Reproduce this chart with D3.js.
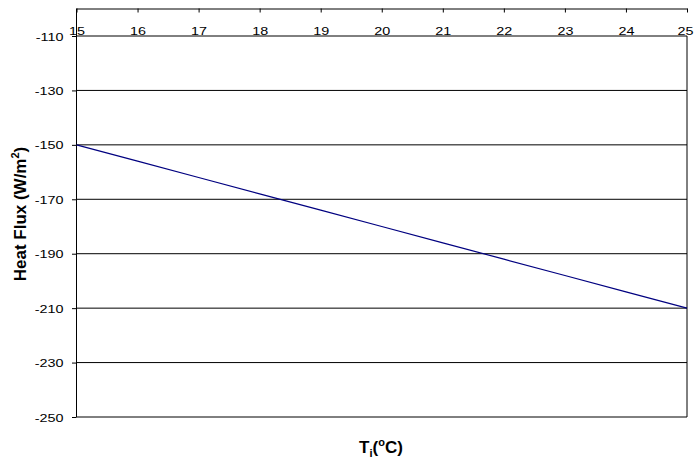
<!DOCTYPE html>
<html>
<head>
<meta charset="utf-8">
<script src="https://cdn.jsdelivr.net/npm/d3@7"></script>
<style>
  html, body { margin: 0; padding: 0; background: #fff; }
  svg { display: block; font-family: "Liberation Sans", Arial, sans-serif; }
</style>
</head>
<body>
<svg id="chart" width="694" height="458"></svg>
<script>
// Indoor temperature (°C) and the resulting heat flux (W/m²)
const temps = [15, 16, 17, 18, 19, 20, 21, 22, 23, 24, 25];
const flux  = [-150, -156, -162, -168, -174, -180, -186, -192, -198, -204, -210];

// Axis tick labels
const xTicks = [15, 16, 17, 18, 19, 20, 21, 22, 23, 24, 25];
const yTicks = [-110, -130, -150, -170, -190, -210, -230, -250];

const svg = d3.select("#chart");

const plotLeft = 76.5, plotRight = 687, plotTop = 36, plotBottom = 417, axisY = 8.5;
// Tick labels are drawn slightly widened
const labelStretch = 1.25;

const x = d3.scaleLinear().domain([15, 25]).range([plotLeft, plotRight]);
const y = d3.scaleLinear().domain([-110, -250]).range([plotTop, plotBottom]);

// Plain hyphen-minus labels
const plainLabel = d => String(d);

// Horizontal gridlines
svg.append("g")
  .selectAll("line")
  .data(yTicks)
  .join("line")
  .attr("x1", plotLeft).attr("x2", plotRight)
  .attr("y1", d => y(d)).attr("y2", d => y(d))
  .attr("stroke", "#000").attr("stroke-width", 1);

// Right edge of the plot area
svg.append("line")
  .attr("x1", plotRight).attr("x2", plotRight)
  .attr("y1", plotTop).attr("y2", plotBottom)
  .attr("stroke", "#000").attr("stroke-width", 1);

// Left (value) axis
const yAxis = d3.axisLeft(y)
  .tickValues(yTicks)
  .tickSize(4.5)
  .tickPadding(8)
  .tickFormat(plainLabel);
const gy = svg.append("g").attr("transform", `translate(${plotLeft},0)`).call(yAxis);
gy.attr("font-size", 11.5).attr("font-family", "Liberation Sans, Arial, sans-serif");
gy.select(".domain").remove();
gy.append("line")
  .attr("x1", 0).attr("x2", 0)
  .attr("y1", axisY).attr("y2", plotBottom)
  .attr("stroke", "#000");
gy.selectAll(".tick line").attr("stroke", "#000");
gy.selectAll(".tick text")
  .attr("fill", "#000")
  .attr("x", -13 / labelStretch)
  .attr("dy", "0.36em")
  .attr("transform", `scale(${labelStretch},1)`);

// Category axis drawn along the top, labels sitting below the line
const xAxis = d3.axisBottom(x)
  .tickValues(xTicks)
  .tickSize(4)
  .tickSizeOuter(0)
  .tickFormat(plainLabel);
const gx = svg.append("g").attr("transform", `translate(0,${axisY})`).call(xAxis);
gx.attr("font-size", 11.5).attr("font-family", "Liberation Sans, Arial, sans-serif");
gx.select(".domain").attr("stroke", "#000");
gx.selectAll(".tick line").attr("stroke", "#000");
gx.selectAll(".tick text")
  .attr("fill", "#000")
  .attr("dy", null)
  .attr("y", 26.5)
  // keep the last label inside the right edge
  .attr("x", (d, i, nodes) => i === nodes.length - 1 ? -2 / labelStretch : 0)
  .attr("transform", `scale(${labelStretch},1)`);

// Heat flux line
const line = d3.line()
  .x((d, i) => x(temps[i]))
  .y(d => y(d));
svg.append("path")
  .datum(flux)
  .attr("d", line)
  .attr("fill", "none")
  .attr("stroke", "#000080")
  .attr("stroke-width", 1.2);

// Axis titles
const yTitle = svg.append("text")
  .attr("transform", "translate(26,214) rotate(-90)")
  .attr("text-anchor", "middle")
  .attr("font-size", 17)
  .attr("font-weight", "bold");
yTitle.append("tspan").text("Heat Flux (W/m");
yTitle.append("tspan").attr("font-size", 11).attr("dy", -7).text("2");
yTitle.append("tspan").attr("dy", 7).text(")");

const xTitle = svg.append("text")
  .attr("x", 381).attr("y", 453)
  .attr("text-anchor", "middle")
  .attr("font-size", 17)
  .attr("font-weight", "bold");
xTitle.append("tspan").text("T");
xTitle.append("tspan").attr("font-size", 11).attr("dy", 4).text("i");
xTitle.append("tspan").attr("dy", -4).text("(");
xTitle.append("tspan").attr("font-size", 11).attr("dy", -7).text("o");
xTitle.append("tspan").attr("dy", 7).text("C)");
</script>
</body>
</html>
